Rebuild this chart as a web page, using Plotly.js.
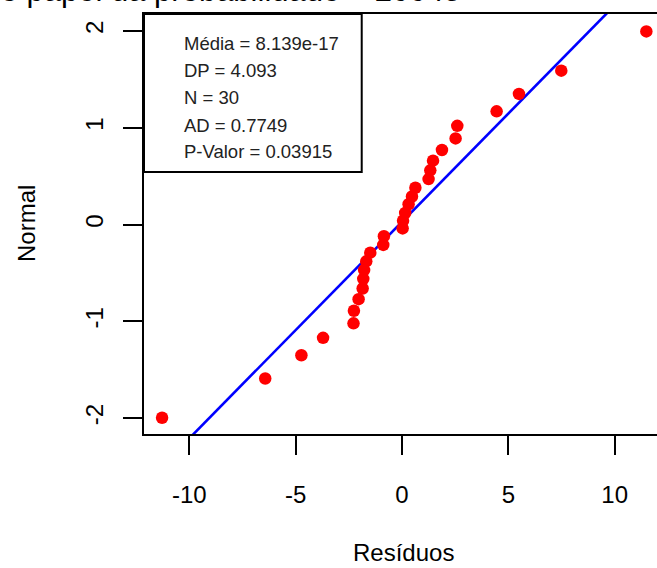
<!DOCTYPE html>
<html>
<head>
<meta charset="utf-8">
<script src="https://cdn.plot.ly/plotly-3.0.1.min.js"></script>
<style>
html,body{margin:0;padding:0;background:#fff;overflow:hidden;}
#chart{width:657px;height:568px;}
</style>
</head>
<body>
<div id="chart"></div>
<script>
// Sorted residuals (x) and their normal scores (y)
const residuos = [-11.28,-6.43,-4.73,-3.71,-2.28,-2.26,-2.04,-1.85,-1.82,-1.78,-1.68,-1.49,-0.88,-0.85,0.03,
                  0.05,0.15,0.31,0.47,0.63,1.25,1.33,1.46,1.88,2.52,2.60,4.45,5.50,7.49,11.49];
const normal   = [-1.995,-1.59,-1.35,-1.17,-1.02,-0.89,-0.77,-0.66,-0.56,-0.47,-0.38,-0.29,-0.21,-0.12,-0.04,
                  0.04,0.12,0.21,0.29,0.38,0.47,0.56,0.66,0.77,0.89,1.02,1.17,1.35,1.59,1.995];
// Reference line (two end points)
const lineX = [-12.2, 12.4];
const lineY = [-2.700, 2.801];
// Ticks
const xTicks = [-10,-5,0,5,10];
const yTicks = [-2,-1,0,1,2];
// Statistics box
const statLines = ["Média = 8.139e-17","DP = 4.093","N = 30","AD = 0.7749","P-Valor = 0.03915"];
const titleText = "Gráfico papel da probabilidade – 20045";
const xTitle = "Resíduos";
const yTitle = "Normal";

const FONT = "Liberation Sans, Arial, sans-serif";

const traces = [
  {x: lineX, y: lineY, mode: 'lines', type: 'scatter',
   line: {color: '#0000FF', width: 2.6}, hoverinfo: 'skip'},
  {x: residuos, y: normal, mode: 'markers', type: 'scatter',
   marker: {color: '#FF0000', size: 12.5, line: {width: 0}}, cliponaxis: false}
];

const statY = [0.9302, 0.8643, 0.8017, 0.7357, 0.6721];
const annotations = statLines.map((t, i) => ({
  text: t, xref: 'paper', yref: 'paper', x: 0.0735, y: statY[i],
  xanchor: 'left', yanchor: 'middle', showarrow: false,
  font: {family: FONT, size: 18.5, color: '#222222'}
}));
annotations.push({
  text: xTitle, xref: 'paper', yref: 'paper', x: 0.5068, y: -0.2815,
  xanchor: 'center', yanchor: 'middle', showarrow: false,
  font: {family: FONT, size: 24, color: '#000'}
});
annotations.push({
  text: yTitle, xref: 'paper', yref: 'paper', x: -0.2300, y: 0.5, textangle: -90,
  xanchor: 'center', yanchor: 'middle', showarrow: false,
  font: {family: FONT, size: 24, color: '#000'}
});
annotations.push({
  text: titleText, xref: 'paper', yref: 'paper', x: 0.6218, y: 1.056,
  xanchor: 'right', yanchor: 'middle', showarrow: false,
  font: {family: FONT, size: 31, color: '#000'}
});

const layout = {
  width: 657, height: 568,
  margin: {l: 144, r: 0, t: 14, b: 134, pad: 0},
  paper_bgcolor: '#fff', plot_bgcolor: '#fff',
  showlegend: false,
  font: {family: FONT, size: 24, color: '#000'},
  xaxis: {range: [-12.13, 11.99], tickvals: xTicks, ticktext: xTicks.map(String),
          showgrid: false, zeroline: false, showline: true, mirror: true,
          linecolor: '#000', linewidth: 2, ticks: 'outside', ticklen: 19, tickwidth: 2,
          tickcolor: '#000', ticklabelstandoff: 19,
          tickfont: {family: FONT, size: 24, color: '#000'}},
  yaxis: {range: [-2.163, 2.175], tickvals: yTicks, ticktext: yTicks.map(String),
          showgrid: false, zeroline: false, showline: true, mirror: false,
          linecolor: '#000', linewidth: 2, ticks: 'outside', ticklen: 19, tickwidth: 2,
          tickcolor: '#000', tickangle: -90, ticklabelstandoff: 10,
          tickfont: {family: FONT, size: 24, color: '#000'}},
  shapes: [{type: 'rect', xref: 'paper', yref: 'paper', x0: 0, x1: 0.4244, y0: 0.6238, y1: 1,
            line: {color: '#000', width: 2}, fillcolor: 'rgba(0,0,0,0)'}],
  annotations: annotations
};

Plotly.newPlot('chart', traces, layout, {displayModeBar: false, staticPlot: true});
</script>
</body>
</html>
